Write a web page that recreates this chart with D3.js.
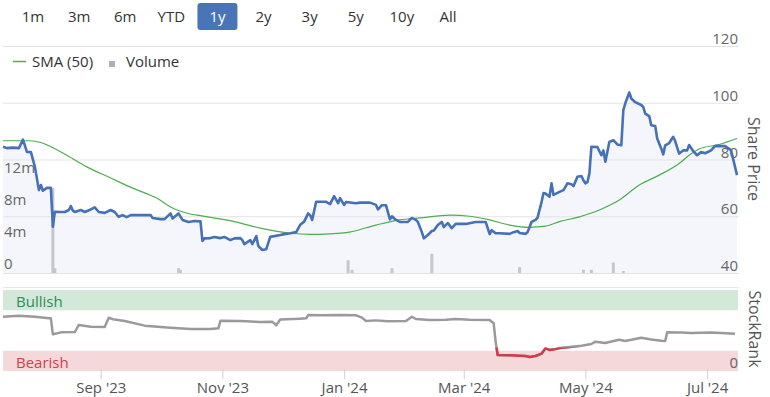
<!DOCTYPE html>
<html>
<head>
<meta charset="utf-8">
<script src="https://cdn.jsdelivr.net/npm/d3@7"></script>
<style>
  body { margin: 0; background: #fff; }
  svg { display: block; font-family: "Open Sans", sans-serif; }
</style>
</head>
<body>
<script>
// range buttons, "1y" is the active one
const rangeButtons = ["1m", "3m", "6m", "YTD", "1y", "2y", "3y", "5y", "10y", "All"];
const activeRange = "1y";

const priceTicks = [40, 60, 80, 100, 120];
const volumeTicks = [0, 4, 8, 12];
const monthTicks = ["2023-09-01", "2023-11-01", "2024-01-01", "2024-03-01", "2024-05-01", "2024-07-01"];

// share price (date, price)
const price = [
  ["2023-07-14", 84.5], ["2023-07-16", 84.0], ["2023-07-19", 84.2], ["2023-07-22", 84.0],
  ["2023-07-24", 87.0], ["2023-07-26", 82.7], ["2023-07-28", 82.6], ["2023-07-30", 77.4],
  ["2023-08-01", 69.2], ["2023-08-02", 71.0], ["2023-08-03", 69.0], ["2023-08-05", 70.0],
  ["2023-08-07", 70.0], ["2023-08-08", 56.3], ["2023-08-09", 61.6], ["2023-08-12", 61.5],
  ["2023-08-14", 61.5], ["2023-08-16", 62.2], ["2023-08-17", 63.6], ["2023-08-18", 62.0],
  ["2023-08-19", 61.5], ["2023-08-22", 62.2], ["2023-08-24", 61.5], ["2023-08-27", 62.4],
  ["2023-08-29", 63.1], ["2023-08-31", 61.5], ["2023-09-03", 61.2], ["2023-09-06", 62.2],
  ["2023-09-08", 61.5], ["2023-09-10", 59.8], ["2023-09-12", 60.4], ["2023-09-14", 59.7],
  ["2023-09-16", 60.4], ["2023-09-21", 60.4], ["2023-09-26", 60.4], ["2023-09-27", 59.4],
  ["2023-10-01", 59.0], ["2023-10-03", 59.0], ["2023-10-06", 61.0], ["2023-10-07", 59.2],
  ["2023-10-10", 61.0], ["2023-10-12", 58.7], ["2023-10-15", 58.0], ["2023-10-18", 58.3],
  ["2023-10-21", 58.2], ["2023-10-22", 51.3], ["2023-10-23", 52.2], ["2023-10-26", 52.3],
  ["2023-10-28", 52.7], ["2023-10-31", 52.3], ["2023-11-02", 52.7], ["2023-11-05", 51.6],
  ["2023-11-07", 52.2], ["2023-11-10", 52.3], ["2023-11-11", 51.6], ["2023-11-12", 50.2],
  ["2023-11-15", 51.6], ["2023-11-16", 50.2], ["2023-11-18", 53.0], ["2023-11-19", 49.5],
  ["2023-11-21", 48.1], ["2023-11-23", 48.4], ["2023-11-25", 52.8], ["2023-11-27", 53.0],
  ["2023-11-30", 53.4], ["2023-12-02", 53.7], ["2023-12-05", 54.0], ["2023-12-08", 54.4],
  ["2023-12-10", 57.0], ["2023-12-12", 58.1], ["2023-12-14", 61.0], ["2023-12-15", 60.4],
  ["2023-12-16", 58.7], ["2023-12-18", 65.1], ["2023-12-23", 65.1], ["2023-12-25", 64.3],
  ["2023-12-27", 67.1], ["2023-12-29", 64.6], ["2023-12-30", 66.4], ["2024-01-01", 64.0],
  ["2024-01-02", 65.0], ["2024-01-07", 64.6], ["2024-01-09", 64.8], ["2024-01-14", 64.8],
  ["2024-01-17", 64.0], ["2024-01-18", 62.4], ["2024-01-20", 63.9], ["2024-01-22", 63.9],
  ["2024-01-24", 58.9], ["2024-01-25", 60.0], ["2024-01-27", 58.7], ["2024-01-29", 58.0],
  ["2024-02-02", 58.0], ["2024-02-04", 59.4], ["2024-02-06", 58.7], ["2024-02-07", 58.0],
  ["2024-02-09", 54.4], ["2024-02-10", 52.2], ["2024-02-12", 53.4], ["2024-02-14", 54.8],
  ["2024-02-15", 55.0], ["2024-02-17", 56.9], ["2024-02-19", 58.0], ["2024-02-20", 56.2],
  ["2024-02-22", 57.6], ["2024-02-24", 55.8], ["2024-02-26", 57.3], ["2024-03-02", 57.3],
  ["2024-03-07", 58.0], ["2024-03-12", 58.0], ["2024-03-14", 53.7], ["2024-03-15", 55.1],
  ["2024-03-17", 54.0], ["2024-03-19", 54.0], ["2024-03-24", 53.8], ["2024-03-26", 54.4],
  ["2024-03-28", 54.8], ["2024-03-29", 54.1], ["2024-04-01", 53.8], ["2024-04-02", 54.4],
  ["2024-04-04", 58.0], ["2024-04-06", 58.7], ["2024-04-07", 59.5], ["2024-04-09", 65.0],
  ["2024-04-10", 68.2], ["2024-04-11", 68.0], ["2024-04-13", 66.9], ["2024-04-14", 71.6],
  ["2024-04-15", 67.5], ["2024-04-18", 68.6], ["2024-04-20", 69.2], ["2024-04-22", 71.6],
  ["2024-04-24", 71.3], ["2024-04-25", 70.6], ["2024-04-27", 73.9], ["2024-04-29", 74.2],
  ["2024-04-30", 72.7], ["2024-05-01", 71.6], ["2024-05-02", 72.0], ["2024-05-03", 75.1],
  ["2024-05-04", 84.5], ["2024-05-07", 84.4], ["2024-05-09", 81.5], ["2024-05-10", 83.2],
  ["2024-05-11", 79.2], ["2024-05-13", 86.2], ["2024-05-15", 86.8], ["2024-05-17", 85.3],
  ["2024-05-19", 85.0], ["2024-05-20", 97.4], ["2024-05-21", 99.8], ["2024-05-23", 103.6],
  ["2024-05-24", 101.5], ["2024-05-26", 100.2], ["2024-05-29", 99.2], ["2024-05-30", 98.5],
  ["2024-05-31", 96.2], ["2024-06-02", 95.3], ["2024-06-03", 92.1], ["2024-06-05", 91.8],
  ["2024-06-06", 87.4], ["2024-06-08", 83.9], ["2024-06-09", 81.8], ["2024-06-10", 85.0],
  ["2024-06-12", 85.8], ["2024-06-14", 88.0], ["2024-06-15", 86.5], ["2024-06-17", 82.1],
  ["2024-06-19", 83.2], ["2024-06-21", 83.2], ["2024-06-22", 85.1], ["2024-06-24", 83.0],
  ["2024-06-26", 81.5], ["2024-06-28", 82.6], ["2024-06-30", 82.2], ["2024-07-03", 83.2],
  ["2024-07-05", 84.8], ["2024-07-10", 84.7], ["2024-07-13", 83.3], ["2024-07-14", 80.4],
  ["2024-07-16", 74.5]
];

// 50 day simple moving average
const sma = [
  ["2023-07-14", 86.6], ["2023-07-27", 86.6], ["2023-08-02", 86.0], ["2023-08-07", 84.5],
  ["2023-08-15", 81.5], ["2023-08-25", 77.4], ["2023-09-06", 73.5], ["2023-09-17", 69.9],
  ["2023-09-29", 66.4], ["2023-10-07", 62.9], ["2023-10-16", 60.8], ["2023-10-21", 60.2],
  ["2023-11-07", 58.1], ["2023-11-20", 55.8], ["2023-12-05", 54.0], ["2023-12-15", 53.6],
  ["2023-12-25", 53.8], ["2024-01-02", 54.2], ["2024-01-17", 56.9], ["2024-01-29", 58.7],
  ["2024-02-08", 59.4], ["2024-02-23", 60.4], ["2024-03-04", 60.0], ["2024-03-14", 58.7],
  ["2024-03-24", 56.9], ["2024-04-03", 56.1], ["2024-04-11", 56.5], ["2024-04-18", 58.1],
  ["2024-04-28", 59.8], ["2024-05-08", 62.2], ["2024-05-18", 65.7], ["2024-05-28", 71.0],
  ["2024-06-07", 74.5], ["2024-06-17", 78.6], ["2024-06-22", 81.5], ["2024-06-27", 83.7],
  ["2024-07-07", 85.3], ["2024-07-16", 87.4]
];

// traded volume, millions of shares
const volume = [
  ["2023-08-08", 10.6], ["2023-08-09", 0.6], ["2023-10-10", 0.6], ["2023-10-11", 0.4],
  ["2024-01-03", 1.6], ["2024-01-05", 0.4], ["2024-01-25", 0.6], ["2024-02-14", 2.4],
  ["2024-03-29", 0.75], ["2024-04-30", 0.4], ["2024-05-04", 0.4], ["2024-05-15", 1.3],
  ["2024-05-20", 0.25]
];

// StockRank, 0-100
const stockRank = [
  ["2023-07-14", 67], ["2023-07-22", 68.3], ["2023-07-30", 67], ["2023-08-06", 65],
  ["2023-08-07", 65], ["2023-08-08", 45.3], ["2023-08-12", 47.7], ["2023-08-19", 48],
  ["2023-08-21", 56.8], ["2023-08-27", 54.7], ["2023-09-03", 54.3], ["2023-09-05", 65.8],
  ["2023-09-07", 64], ["2023-09-13", 61.7], ["2023-09-23", 56], ["2023-10-06", 53.5],
  ["2023-10-16", 51.9], ["2023-10-26", 52], ["2023-10-30", 52.7], ["2023-10-31", 62.1],
  ["2023-11-10", 61.7], ["2023-11-20", 60.5], ["2023-11-26", 60.9], ["2023-11-28", 56.5],
  ["2023-11-30", 63.5], ["2023-12-10", 64.6], ["2023-12-13", 65], ["2023-12-14", 69.1],
  ["2023-12-20", 68.7], ["2023-12-30", 69.1], ["2024-01-07", 68.7], ["2024-01-10", 65.8],
  ["2024-01-12", 61.7], ["2024-01-17", 62.5], ["2024-01-23", 61.3], ["2024-02-01", 61.7],
  ["2024-02-04", 67], ["2024-02-06", 64.2], ["2024-02-13", 63], ["2024-02-21", 63.4],
  ["2024-02-26", 64.2], ["2024-03-04", 63.4], ["2024-03-14", 62.9], ["2024-03-16", 58.9],
  ["2024-03-17", 36], ["2024-03-18", 19.8], ["2024-03-24", 19.3], ["2024-04-01", 18.5],
  ["2024-04-03", 17.3], ["2024-04-06", 18.5], ["2024-04-09", 21.4], ["2024-04-11", 28],
  ["2024-04-13", 26], ["2024-04-16", 27], ["2024-04-18", 28.4], ["2024-04-23", 29.6],
  ["2024-04-29", 31.2], ["2024-05-04", 33.3], ["2024-05-06", 36.2], ["2024-05-11", 34.6],
  ["2024-05-14", 36.4], ["2024-05-18", 38.6], ["2024-05-21", 37], ["2024-05-29", 41.1],
  ["2024-06-03", 38.9], ["2024-06-08", 37.4], ["2024-06-10", 37], ["2024-06-11", 47.7],
  ["2024-06-18", 47.5], ["2024-06-23", 46.9], ["2024-07-03", 47.5], ["2024-07-08", 46.9],
  ["2024-07-15", 46]
];

const parse = d3.timeParse("%Y-%m-%d");

const svg = d3.select("body").append("svg").attr("width", 770).attr("height", 397);

const x = d3.scaleTime()
  .domain([parse("2023-07-14"), parse("2024-07-16")])
  .range([3, 737]);
const yPrice = d3.scaleLinear().domain([40, 120]).range([273, 46]);
const yVol = d3.scaleLinear().domain([0, 12]).range([273, 177]);
const yRank = d3.scaleLinear().domain([0, 100]).range([371, 290]);

// --- range selector
const btnX = d3.scalePoint().domain(rangeButtons).range([33, 448]);
svg.append("rect")
  .attr("x", btnX(activeRange) - 20).attr("y", 3)
  .attr("width", 40).attr("height", 27).attr("rx", 3)
  .attr("fill", "#4a74b8");
svg.append("g").selectAll("text").data(rangeButtons).join("text")
  .attr("x", (d) => btnX(d)).attr("y", 22)
  .attr("text-anchor", "middle")
  .attr("font-size", 15)
  .attr("fill", (d) => (d === activeRange ? "#fff" : "#333"))
  .text((d) => d);

// --- price panel
const area = d3.area()
  .x((d) => x(parse(d[0])))
  .y0(yPrice(40))
  .y1((d) => yPrice(d[1]));
svg.append("path").datum(price).attr("d", area).attr("fill", "#f4f6fb");

svg.append("g").selectAll("line").data(priceTicks).join("line")
  .attr("x1", 3).attr("x2", 739)
  .attr("y1", (d) => yPrice(d) + 0.5).attr("y2", (d) => yPrice(d) + 0.5)
  .attr("stroke", "#e3e3e3");

svg.append("g").selectAll("text").data(priceTicks).join("text")
  .attr("x", 738).attr("y", (d) => yPrice(d) - 2)
  .attr("text-anchor", "end")
  .attr("font-size", 15)
  .attr("fill", "#666")
  .text((d) => d);

svg.append("g").selectAll("text").data(volumeTicks).join("text")
  .attr("x", 4).attr("y", (d) => yVol(d) - 4)
  .attr("font-size", 15)
  .attr("fill", "#666")
  .text((d) => (d === 0 ? "0" : d + "m"));

svg.append("g").selectAll("rect").data(volume).join("rect")
  .attr("x", (d) => x(parse(d[0])) - 1.5)
  .attr("width", 3)
  .attr("y", (d) => yVol(d[1]))
  .attr("height", (d) => yVol(0) - yVol(d[1]))
  .attr("fill", "#c6c6cc");

const line = d3.line()
  .x((d) => x(parse(d[0])))
  .y((d) => yPrice(d[1]));

svg.append("path").datum(sma)
  .attr("d", line.curve(d3.curveMonotoneX))
  .attr("fill", "none").attr("stroke", "#4bae4f").attr("stroke-width", 1.2);

svg.append("path").datum(price)
  .attr("d", line.curve(d3.curveLinear))
  .attr("fill", "none").attr("stroke", "#4571b9").attr("stroke-width", 2.6)
  .attr("stroke-linejoin", "round");

// legend
svg.append("line").attr("x1", 13).attr("x2", 26).attr("y1", 61.5).attr("y2", 61.5)
  .attr("stroke", "#4bae4f").attr("stroke-width", 1.5);
svg.append("text").attr("x", 32).attr("y", 67).attr("font-size", 15).attr("fill", "#333")
  .text("SMA (50)");
svg.append("rect").attr("x", 109).attr("y", 61).attr("width", 6).attr("height", 6)
  .attr("fill", "#b0b0b6");
svg.append("text").attr("x", 126).attr("y", 67).attr("font-size", 15).attr("fill", "#333")
  .text("Volume");

svg.append("text")
  .attr("transform", "translate(748,159) rotate(90)")
  .attr("text-anchor", "middle")
  .attr("font-size", 16)
  .attr("fill", "#555")
  .text("Share Price");

// --- StockRank panel
svg.append("line").attr("x1", 3).attr("x2", 739).attr("y1", 287.5).attr("y2", 287.5)
  .attr("stroke", "#e6e6e6");
svg.append("rect").attr("x", 3).attr("y", yRank(100)).attr("width", 735)
  .attr("height", yRank(75) - yRank(100)).attr("fill", "#d4e8da");
svg.append("rect").attr("x", 3).attr("y", yRank(25)).attr("width", 735)
  .attr("height", yRank(0) - yRank(25)).attr("fill", "#f5d8da");
svg.append("text").attr("x", 16).attr("y", 307).attr("font-size", 15).attr("fill", "#2e8b57")
  .text("Bullish");
svg.append("text").attr("x", 16).attr("y", 368).attr("font-size", 15).attr("fill", "#d2404d")
  .text("Bearish");
svg.append("text").attr("x", 738).attr("y", 368).attr("text-anchor", "end")
  .attr("font-size", 15).attr("fill", "#666").text("0");

svg.append("clipPath").attr("id", "bearClip")
  .append("rect").attr("x", 0).attr("y", yRank(29)).attr("width", 770).attr("height", 100);

const rankLine = d3.line()
  .x((d) => x(parse(d[0])))
  .y((d) => yRank(d[1]));
svg.append("path").datum(stockRank).attr("d", rankLine)
  .attr("fill", "none").attr("stroke", "#9a9a9a").attr("stroke-width", 2.5)
  .attr("stroke-linejoin", "round");
svg.append("path").datum(stockRank).attr("d", rankLine)
  .attr("clip-path", "url(#bearClip)")
  .attr("fill", "none").attr("stroke", "#d43a48").attr("stroke-width", 2.5)
  .attr("stroke-linejoin", "round");

svg.append("text")
  .attr("transform", "translate(749,329) rotate(90)")
  .attr("text-anchor", "middle")
  .attr("font-size", 16)
  .attr("fill", "#555")
  .text("StockRank");

// --- x axis
const xAxis = d3.axisBottom(x)
  .tickValues(monthTicks.map(parse))
  .tickFormat(d3.timeFormat("%b '%y"))
  .tickSize(10)
  .tickPadding(3);
const gx = svg.append("g").attr("transform", "translate(0,369)").call(xAxis);
gx.select(".domain").remove();
gx.selectAll(".tick line").attr("stroke", "#d0d0d0");
gx.selectAll(".tick text")
  .attr("font-family", "Open Sans, sans-serif")
  .attr("font-size", 15)
  .attr("fill", "#555");
</script>
</body>
</html>
